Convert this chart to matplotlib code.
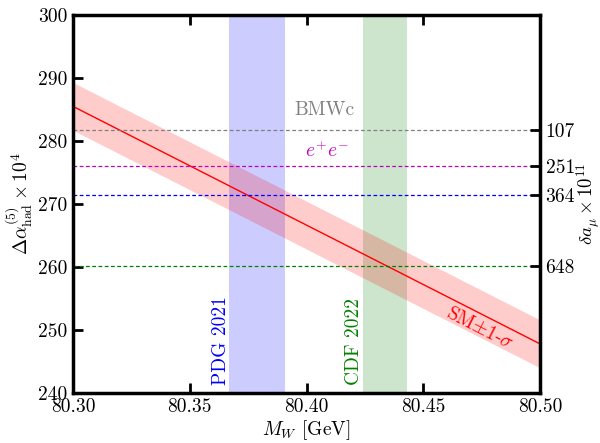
import matplotlib
matplotlib.use("Agg")
import matplotlib.pyplot as plt
import numpy as np

plt.rcParams['font.family'] = 'serif'
plt.rcParams['font.serif'] = ['cmr10']
plt.rcParams['mathtext.fontset'] = 'cm'
plt.rcParams['axes.formatter.use_mathtext'] = True
plt.rcParams['axes.unicode_minus'] = False

# SM prediction: Delta alpha_had vs M_W (centre and 1-sigma half width)
mw_ends = [80.30, 80.50]
sm_centre = [285.5, 247.8]
sm_sigma = 3.8

# W mass measurements (centre, error)
pdg_mw, pdg_err = 80.379, 0.012
cdf_mw, cdf_err = 80.4335, 0.0094

# horizontal reference lines and their delta a_mu labels
ref_values = [281.7, 276.0, 271.5, 260.2]
ref_colors = ['gray', 'm', 'b', 'g']
ref_labels = ['107', '251', '364', '648']

fig = plt.figure(figsize=(6.0, 4.43), dpi=100)
ax = fig.add_axes([0.1217, 0.1129, 0.7783, 0.8531])

ax.axvspan(pdg_mw - pdg_err, pdg_mw + pdg_err, color='blue', alpha=0.2, lw=0)
ax.axvspan(cdf_mw - cdf_err, cdf_mw + cdf_err, color='green', alpha=0.2, lw=0)

x = np.array(mw_ends)
y = np.array(sm_centre)
ax.fill_between(x, y - sm_sigma, y + sm_sigma, color='red', alpha=0.2, lw=0)
ax.plot(x, y, color='red', lw=1)

for v, c in zip(ref_values, ref_colors):
    ax.axhline(v, color=c, ls='--', lw=0.9, dashes=(3, 2))

ax.text(80.4075, 284.9, 'BMWc', color='gray', fontsize=14, ha='center', va='center')
ax.text(80.4088, 278.4, r'$e^{+}e^{-}$', color='m', fontsize=14, ha='center', va='center')
ax.text(80.3634, 241.3, 'PDG 2021', color='b', fontsize=14, rotation=90, ha='center', va='bottom')
ax.text(80.4203, 241.3, 'CDF 2022', color='g', fontsize=14, rotation=90, ha='center', va='bottom')
ax.text(80.4743, 250.2, r'SM$\pm$1-$\sigma$', color='red', fontsize=14, rotation=-27,
        ha='center', va='center')

ax.set_xlim(80.30, 80.50)
ax.set_ylim(240, 300)
ax.set_xticks([80.30, 80.35, 80.40, 80.45, 80.50])
ax.set_xticklabels(['80.30', '80.35', '80.40', '80.45', '80.50'])
ax.set_yticks([240, 250, 260, 270, 280, 290, 300])
ax.set_yticklabels(['240', '250', '260', '270', '280', '290', '300'])
ax.tick_params(direction='in', length=7, width=2, labelsize=14, top=True, right=False, pad=4)
for s in ax.spines.values():
    s.set_linewidth(2.5)

ax.set_xlabel(r'$M_W$ [GeV]', fontsize=14, labelpad=1)
ax.set_ylabel(r'$\Delta\alpha^{(5)}_{\rm had}\times 10^4$', fontsize=14, labelpad=2)

ax2 = ax.twinx()
ax2.set_ylim(240, 300)
ax2.set_yticks(ref_values)
ax2.set_yticklabels(ref_labels)
ax2.tick_params(direction='in', length=7, width=2, labelsize=14, pad=4)
ax2.set_ylabel(r'$\delta a_\mu\times 10^{11}$', fontsize=13.5, labelpad=0)

fig.savefig('out.png', dpi=100)
